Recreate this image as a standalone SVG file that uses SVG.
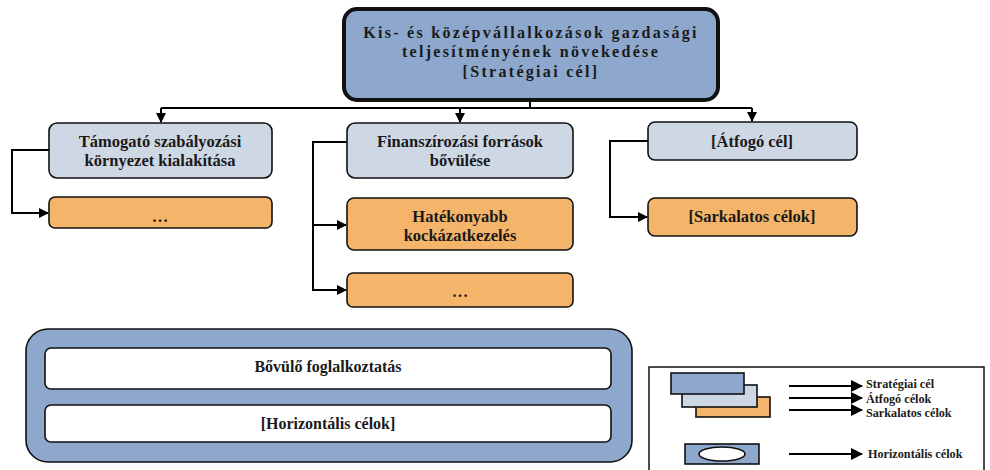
<svg xmlns="http://www.w3.org/2000/svg" width="990" height="470" viewBox="0 0 990 470">
<style>
.t{font-family:"Liberation Serif","Times New Roman",serif;font-weight:bold;fill:#1a1a1a;text-anchor:middle}
.n{font-size:16.5px}
.l{font-size:12.2px;text-anchor:start}
.c{fill:none;stroke:#000;stroke-width:2}
.box{stroke:#111;stroke-width:1.6}
.blue{fill:#8DA8CC}
.grey{fill:#CED7E4}
.orange{fill:#F4B469}
.white{fill:#fff}
</style>
<defs>
<marker id="ah" markerWidth="10" markerHeight="10" refX="9" refY="5" orient="auto" markerUnits="userSpaceOnUse">
<path d="M0,0 L10,5 L0,10 Z" fill="#000"/>
</marker>
<marker id="ahl" markerWidth="12" markerHeight="12" refX="11" refY="6" orient="auto" markerUnits="userSpaceOnUse">
<path d="M0,0 L12,6 L0,12 Z" fill="#000"/>
</marker>
</defs>
<rect width="990" height="470" fill="#fff"/>

<g id="connectors">
<path class="c" d="M530,100 V108"/>
<path class="c" d="M161,108 H752"/>
<path class="c" d="M161,108 V122" marker-end="url(#ah)"/>
<path class="c" d="M460,108 V122" marker-end="url(#ah)"/>
<path class="c" d="M752,108 V121" marker-end="url(#ah)"/>
<path class="c" d="M49,150 H12 V213 H48" marker-end="url(#ah)"/>
<path class="c" d="M347,142 H313 V290 H346" marker-end="url(#ah)"/>
<path class="c" d="M313,225 H346" marker-end="url(#ah)"/>
<path class="c" d="M648,141 H610 V217 H647" marker-end="url(#ah)"/>
</g>

<g id="strategic">
<rect x="344" y="9" width="374" height="91" rx="13" class="blue" stroke="#111" stroke-width="4"/>
<text class="t" font-size="16" letter-spacing="2.3" x="531" y="38">Kis- és középvállalkozások gazdasági</text>
<text class="t" font-size="16" letter-spacing="2.3" x="531" y="57">teljesítményének növekedése</text>
<text class="t" font-size="16" letter-spacing="2.3" x="531" y="77">[Stratégiai cél]</text>
</g>

<g id="node-tamogato">
<rect x="49" y="123" width="223" height="55" rx="8" class="box grey"/>
<text class="t n" x="160" y="147">Támogató szabályozási</text>
<text class="t n" x="160" y="166">környezet kialakítása</text>
</g>
<g id="node-dots1">
<rect x="49" y="197" width="223" height="31" rx="6" class="box orange"/>
<text class="t n" x="160" y="222">…</text>
</g>

<g id="node-finanszirozasi">
<rect x="347" y="123" width="226" height="55" rx="8" class="box grey"/>
<text class="t n" x="460" y="147">Finanszírozási források</text>
<text class="t n" x="460" y="166">bővülése</text>
</g>
<g id="node-hatekonyabb">
<rect x="347" y="198" width="226" height="52" rx="7" class="box orange"/>
<text class="t n" x="460" y="222">Hatékonyabb</text>
<text class="t n" x="460" y="241">kockázatkezelés</text>
</g>
<g id="node-dots2">
<rect x="347" y="273" width="226" height="34" rx="6" class="box orange"/>
<text class="t n" x="460" y="297">…</text>
</g>

<g id="node-atfogo">
<rect x="648" y="122" width="209" height="38" rx="7" class="box grey"/>
<text class="t n" x="752" y="147">[Átfogó cél]</text>
</g>
<g id="node-sarkalatos">
<rect x="648" y="198" width="209" height="38" rx="7" class="box orange"/>
<text class="t n" x="752" y="222">[Sarkalatos célok]</text>
</g>

<g id="horizontal">
<rect x="26" y="329" width="606" height="133" rx="22" class="box blue"/>
<rect x="45" y="348" width="566" height="41" rx="6" class="box white"/>
<text class="t" font-size="16" x="328" y="372">Bővülő foglalkoztatás</text>
<rect x="45" y="405" width="566" height="37" rx="6" class="box white"/>
<text class="t" font-size="16" x="328" y="429">[Horizontális célok]</text>
</g>

<g id="legend">
<rect x="649" y="367" width="335" height="110" fill="#fff" stroke="#111" stroke-width="1.5"/>
<rect x="696" y="397" width="74" height="20" class="box orange"/>
<rect x="682" y="385" width="75" height="22" class="box grey"/>
<rect x="671" y="373" width="73" height="21" class="box blue"/>
<path class="c" d="M789,386 H862" marker-end="url(#ahl)"/>
<path class="c" d="M789,398 H862" marker-end="url(#ahl)"/>
<path class="c" d="M789,410 H862" marker-end="url(#ahl)"/>
<text class="t l" x="866" y="388">Stratégiai cél</text>
<text class="t l" x="866" y="403">Átfogó célok</text>
<text class="t l" x="866" y="417">Sarkalatos célok</text>
<rect x="685" y="444" width="74" height="20" class="box blue"/>
<ellipse cx="722" cy="454" rx="23" ry="7" fill="#fff" stroke="#111" stroke-width="1.6"/>
<path class="c" d="M789,454 H862" marker-end="url(#ahl)"/>
<text class="t l" x="868" y="458">Horizontális célok</text>
</g>
</svg>
